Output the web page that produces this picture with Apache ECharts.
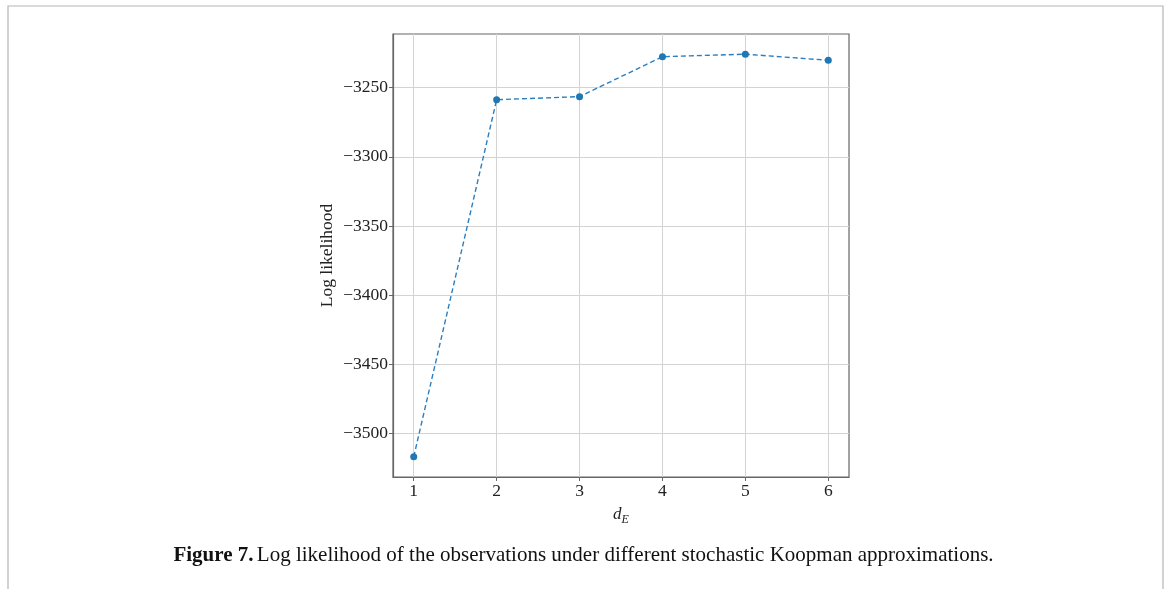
<!DOCTYPE html>
<html>
<head>
<meta charset="utf-8">
<script src="https://cdn.jsdelivr.net/npm/echarts@6/dist/echarts.min.js"></script>
<style>
  html, body { margin: 0; padding: 0; background: #fff; }
  #chart { width: 1167px; height: 589px; }
</style>
</head>
<body>
<div id="chart"></div>
<script>
// embedding dimension d_E and log likelihood
const dims = [1, 2, 3, 4, 5, 6];
const logLik = [-3516.9, -3258.7, -3256.5, -3227.6, -3225.8, -3230.2];
const xTicks = [1, 2, 3, 4, 5, 6];
const yTicks = [-3500, -3450, -3400, -3350, -3300, -3250];

const serif = '"Liberation Serif", "DejaVu Serif", serif';
const fmtMinus = v => String(v).replace('-', '\u2212');

const chart = echarts.init(document.getElementById('chart'));
chart.setOption({
  animation: false,
  grid: {
    left: 393, top: 34, right: 318, bottom: 112,
    show: true, borderColor: '#666', borderWidth: 1.2, backgroundColor: 'transparent'
  },
  xAxis: {
    type: 'value',
    min: 0.75, max: 6.25,
    axisLine: { show: true, onZero: false, lineStyle: { color: '#666', width: 1.2 } },
    axisTick: { show: true, length: 4, customValues: xTicks, lineStyle: { color: '#666' } },
    axisLabel: {
      customValues: xTicks, margin: 5,
      color: '#222', fontFamily: serif, fontSize: 17.5
    },
    splitLine: { show: true, lineStyle: { color: '#d3d3d3', width: 1 } },
    name: '{d|d}{e|E}',
    nameLocation: 'middle',
    nameGap: 27,
    nameTextStyle: {
      rich: {
        d: { fontFamily: serif, fontStyle: 'italic', fontSize: 17, color: '#222' },
        e: { fontFamily: serif, fontStyle: 'italic', fontSize: 12, color: '#222', padding: [10, 0, 0, 0] }
      }
    }
  },
  yAxis: {
    type: 'value',
    min: -3531.5, max: -3211.2,
    axisLine: { show: true, onZero: false, lineStyle: { color: '#666', width: 1.2 } },
    axisTick: { show: true, length: 4, customValues: yTicks, lineStyle: { color: '#666' } },
    axisLabel: {
      customValues: yTicks, margin: 5,
      color: '#222', fontFamily: serif, fontSize: 17.5,
      formatter: fmtMinus
    },
    splitLine: { show: true, lineStyle: { color: '#d3d3d3', width: 1 } },
    name: 'Log likelihood',
    nameLocation: 'middle',
    nameGap: 57,
    nameTextStyle: { fontFamily: serif, fontSize: 17.5, color: '#222' }
  },
  series: [{
    type: 'line',
    data: dims.map((d, i) => [d, logLik[i]]),
    lineStyle: { color: '#2b7fc0', width: 1.4, type: [5, 3] },
    itemStyle: { color: '#1f77b4' },
    symbol: 'circle',
    symbolSize: 7,
    showSymbol: true
  }],
  graphic: [
    {
      type: 'rect',
      shape: { x: 8, y: 6, width: 1155, height: 620 },
      style: { fill: 'none', stroke: '#b5b5b5', lineWidth: 1.2 },
      silent: true
    },
    {
      type: 'text',
      left: 'center',
      top: 545,
      style: {
        text: '{b|Figure 7.} {n|Log likelihood of the observations under different stochastic Koopman approximations.}',
        rich: {
          b: { fontFamily: serif, fontWeight: 'bold', fontSize: 21, fill: '#111' },
          n: { fontFamily: serif, fontSize: 21, fill: '#111' }
        }
      }
    }
  ]
});
</script>
</body>
</html>
